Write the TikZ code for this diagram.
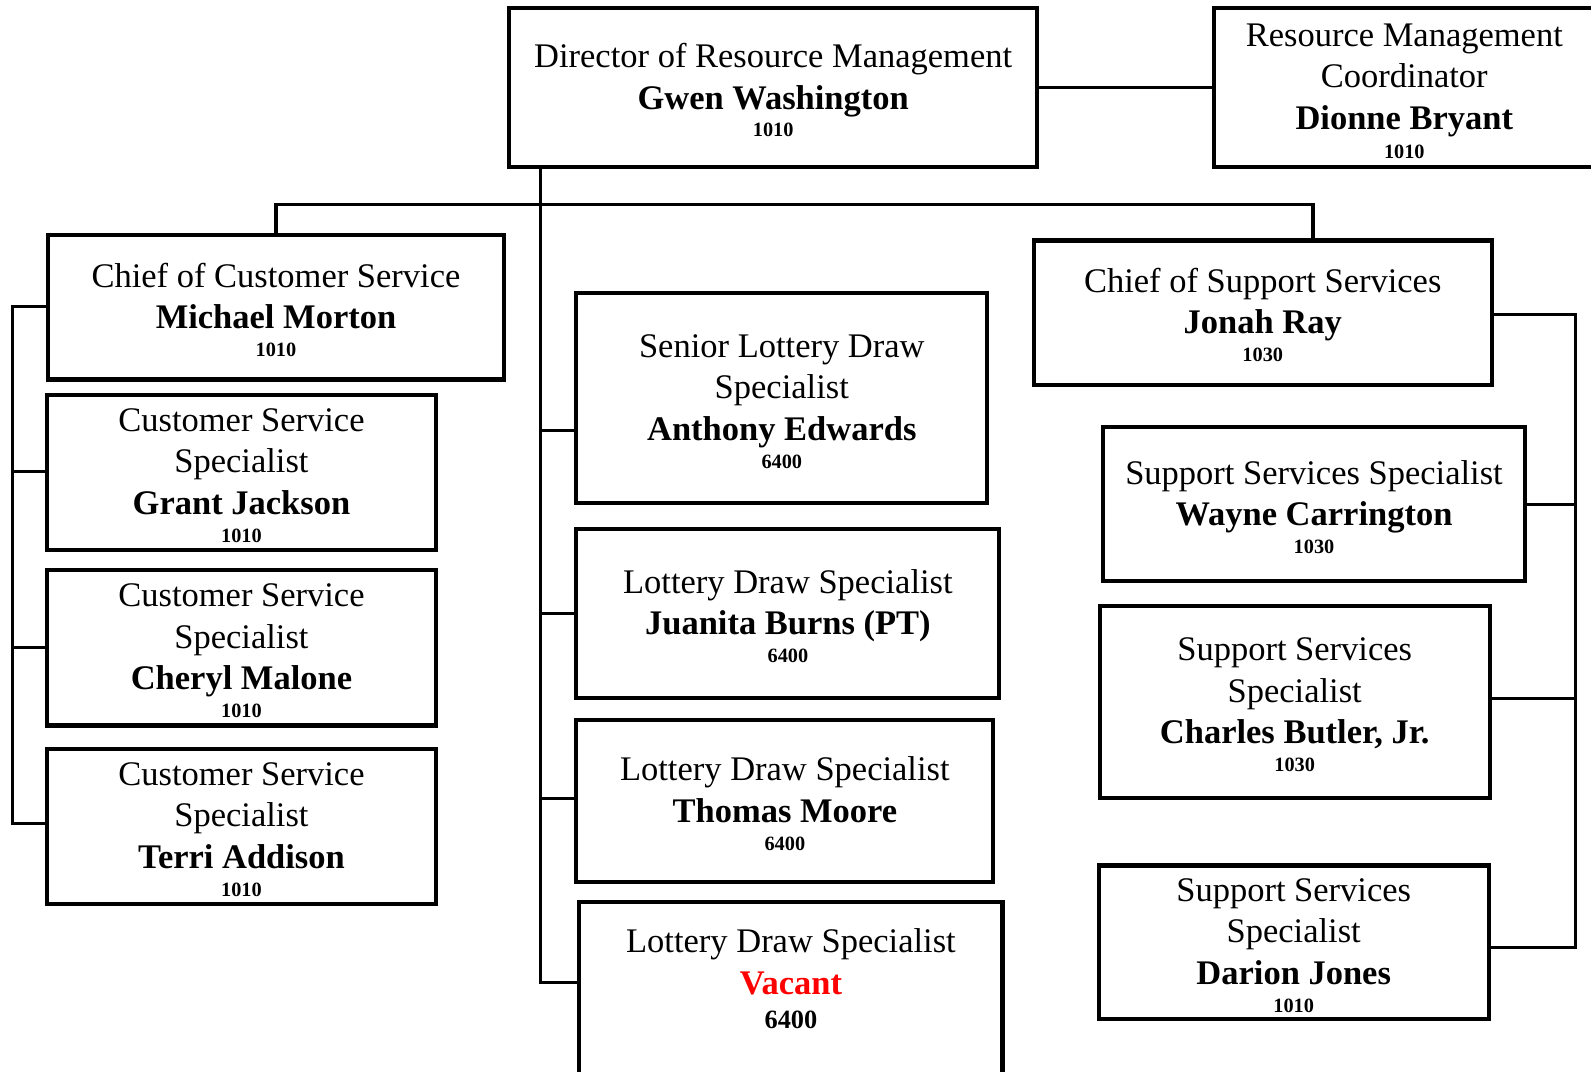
\documentclass[tikz,border=0pt]{standalone}
\usepackage{fontspec}
\setmainfont{Liberation Serif}
\newcommand\ttlfont{\fontsize{34}{41}\selectfont}
\newcommand\fst{\rule{0pt}{28.7pt}}
\newcommand\nm[1]{\textbf{#1}}
\newcommand\code[1]{{\fontsize{20}{20}\selectfont\bfseries #1}}
\definecolor{vacred}{RGB}{255,0,0}
\tikzset{
  orgbox/.style={draw, line width=4pt, inner sep=0pt, align=center, font=\ttlfont},
  txt/.style={inner sep=0pt, align=center, font=\ttlfont},
  link/.style={line width=3pt},
}
\begin{document}
\begin{tikzpicture}[x=1pt,y=-1pt]
\useasboundingbox (0,0) rectangle (1568,1056.5);
\clip (0,0) rectangle (1568,1056.5);
\fill[white] (0,0) rectangle (1568,1056.5);

% top row
\node[orgbox, minimum width=520pt, minimum height=157pt] (dir) at (762,86.5)
  {\fst Director of Resource Management\\ \nm{Gwen Washington}\\[-13.5pt] \code{1010}};
\node[draw, line width=4pt, minimum width=430pt, minimum height=157pt] (rmc) at (1411,86.5) {};
\node[txt] (rmct) at (1384,90) {Resource Management\\ Coordinator\\ \nm{Dionne Bryant}\\[-12pt] \code{1010}};
\draw[link] (dir.east) -- (rmc.west);

% left column
\node[orgbox, minimum width=450pt, minimum height=142pt] (ccs) at (272,303)
  {\fst Chief of Customer Service\\ \nm{Michael Morton}\\[-13.5pt] \code{1010}};
\node[orgbox, minimum width=384pt, minimum height=153pt] (grant) at (238,465.5)
  {\fst Customer Service\\ Specialist\\ \nm{Grant Jackson}\\[-13.5pt] \code{1010}};
\node[orgbox, minimum width=384pt, minimum height=153pt] (cheryl) at (238,638.5)
  {\fst Customer Service\\ Specialist\\ \nm{Cheryl Malone}\\[-13.5pt] \code{1010}};
\node[orgbox, minimum width=384pt, minimum height=153pt] (terri) at (238,814.5)
  {\fst Customer Service\\ Specialist\\ \nm{Terri Addison}\\[-13.5pt] \code{1010}};

% middle column
\node[orgbox, minimum width=405pt, minimum height=207pt] (senior) at (770.5,392.5)
  {\fst Senior Lottery Draw\\ Specialist\\ \nm{Anthony Edwards}\\[-13.5pt] \code{6400}};
\node[orgbox, minimum width=417pt, minimum height=167pt] (juan) at (776.5,604.5)
  {\fst Lottery Draw Specialist\\ \nm{Juanita Burns (PT)}\\[-13.5pt] \code{6400}};
\node[orgbox, minimum width=411pt, minimum height=159pt] (thom) at (773.5,789.5)
  {\fst Lottery Draw Specialist\\ \nm{Thomas Moore}\\[-13.5pt] \code{6400}};
\node[draw, line width=4pt, minimum width=417pt, minimum height=220pt] (vac) at (779.5,999) {};
\node[txt] (vact) at (779.5,964.5) {Lottery Draw Specialist\\ \textcolor{vacred}{\nm{Vacant}}\\[-8pt] {\fontsize{26}{26}\selectfont\bfseries 6400}};

% right column
\node[orgbox, minimum width=451pt, minimum height=142pt] (css) at (1244.5,308)
  {\fst Chief of Support Services\\ \nm{Jonah Ray}\\[-13.5pt] \code{1030}};
\node[orgbox, minimum width=416pt, minimum height=152pt] (wayne) at (1295,497)
  {\fst Support Services Specialist\\ \nm{Wayne Carrington}\\[-13.5pt] \code{1030}};
\node[orgbox, minimum width=384pt, minimum height=189pt] (charles) at (1276,691.5)
  {\fst Support Services\\ Specialist\\ \nm{Charles Butler, Jr.}\\[-13.5pt] \code{1030}};
\node[orgbox, minimum width=384pt, minimum height=151pt] (darion) at (1275,928.5)
  {\fst Support Services\\ Specialist\\ \nm{Darion Jones}\\[-13.5pt] \code{1010}};

% spine from director
\coordinate (sptop) at (533,165);
\coordinate (spbot) at (533,970);
\draw[link] (dir.south -| sptop) -- (spbot);
\coordinate (m1) at (533,424);
\coordinate (m2) at (533,605);
\coordinate (m3) at (533,787);
\coordinate (m4) at (533,968);
\draw[link] (m1) -- (m1 -| senior.west);
\draw[link] (m2) -- (m2 -| juan.west);
\draw[link] (m3) -- (m3 -| thom.west);
\draw[link] (m4) -- (m4 -| vac.west);

% horizontal bar to the two chiefs
\coordinate (bl) at (272,202);
\coordinate (br) at (1294,202);
\draw[link] (ccs.north) -- (bl) -- (br) -- (br |- css.north);

% left bracket
\coordinate (l1) at (12,302);
\coordinate (l2) at (12,465);
\coordinate (l3) at (12,638);
\coordinate (l4) at (12,812);
\draw[link] (l1 -| ccs.west) -- (l1) -- (l4) -- (l4 -| terri.west);
\draw[link] (l2) -- (l2 -| grant.west);
\draw[link] (l3) -- (l3 -| cheryl.west);

% right bracket
\coordinate (r1) at (1553,310);
\coordinate (r2) at (1553,497);
\coordinate (r3) at (1553,688);
\coordinate (r4) at (1553,934);
\draw[link] (r1 -| css.east) -- (r1) -- (r4) -- (r4 -| darion.east);
\draw[link] (r2) -- (r2 -| wayne.east);
\draw[link] (r3) -- (r3 -| charles.east);
\end{tikzpicture}
\end{document}
